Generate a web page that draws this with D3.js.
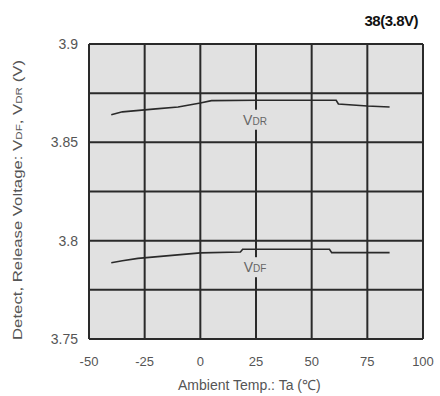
<!DOCTYPE html>
<html>
<head>
<meta charset="utf-8">
<script src="https://cdn.jsdelivr.net/npm/d3@7"></script>
<style>
  body { margin: 0; background: #fff; }
  svg { display: block; font-family: "Liberation Sans", Arial, sans-serif; }
</style>
</head>
<body>
<svg id="chart" width="440" height="396"></svg>
<script>
// temperature (degC) and voltage readings
var vdrTemp = [-40, -35, -20, -10, 0, 5, 25, 50, 61, 62, 75, 85];
var vdrVolt = [3.864, 3.8655, 3.867, 3.868, 3.870, 3.8712, 3.8714, 3.8714, 3.8714, 3.8695, 3.8685, 3.868];
var vdfTemp = [-40, -35, -28, 0, 18, 19, 58, 59, 85];
var vdfVolt = [3.7888, 3.7898, 3.791, 3.7938, 3.7942, 3.7956, 3.7956, 3.7939, 3.7939];
var xTicks = [-50, -25, 0, 25, 50, 75, 100];
var yTicks = [3.75, 3.8, 3.85, 3.9];
var yGrid = [3.75, 3.775, 3.8, 3.825, 3.85, 3.875, 3.9];

function drawChart() {
  var svg = d3.select("#chart");
  var margin = { top: 44, right: 17, bottom: 57, left: 89 };
  var width = 440 - margin.left - margin.right;
  var height = 396 - margin.top - margin.bottom;

  var x = d3.scaleLinear().domain([-50, 100]).range([0, width]);
  var y = d3.scaleLinear().domain([3.75, 3.9]).range([height, 0]);

  var g = svg.append("g")
      .attr("transform", `translate(${margin.left},${margin.top})`);

  g.append("rect")
      .attr("width", width)
      .attr("height", height)
      .attr("fill", "#e1e1e1");

  // grid
  g.selectAll(".vgrid")
    .data(xTicks)
    .enter()
    .append("line")
    .attr("x1", d => x(d)).attr("x2", d => x(d))
    .attr("y1", 0).attr("y2", height)
    .attr("stroke", "#2a2a2a")
    .attr("stroke-width", 2);

  g.selectAll(".hgrid")
    .data(yGrid)
    .enter()
    .append("line")
    .attr("x1", 0).attr("x2", width)
    .attr("y1", d => y(d)).attr("y2", d => y(d))
    .attr("stroke", "#2a2a2a")
    .attr("stroke-width", 2);

  // curves
  var line = d3.line()
    .x(d => x(d[0]))
    .y(d => y(d[1]));

  var series = [d3.zip(vdrTemp, vdrVolt), d3.zip(vdfTemp, vdfVolt)];
  g.selectAll(".curve")
    .data(series)
    .enter()
    .append("path")
    .attr("d", line)
    .attr("fill", "none")
    .attr("stroke", "#2a2a2a")
    .attr("stroke-width", 1.6);

  // curve labels, with a background patch over the grid line
  var labels = [
    { sub: "DR", t: 25, v: 3.8615 },
    { sub: "DF", t: 25, v: 3.7865 }
  ];
  labels.forEach(function(l) {
    var cx = x(l.t) - 1;
    var cy = y(l.v);
    g.append("rect")
      .attr("x", cx - 16).attr("y", cy - 10)
      .attr("width", 32).attr("height", 20)
      .attr("fill", "#e1e1e1");
    var t = g.append("text")
      .attr("x", cx)
      .attr("y", cy + 5)
      .attr("text-anchor", "middle")
      .attr("fill", "#666")
      .style("font-size", "14px");
    t.append("tspan").text("V");
    t.append("tspan").style("font-size", "10px").text(l.sub);
  });

  // y tick labels
  g.selectAll(".ytick")
    .data(yTicks)
    .enter()
    .append("text")
    .attr("x", -11)
    .attr("y", d => y(d) + 5)
    .attr("text-anchor", "end")
    .attr("fill", "#555")
    .style("font-size", "14px")
    .text(d => d);

  // x tick labels
  g.selectAll(".xtick")
    .data(xTicks)
    .enter()
    .append("text")
    .attr("x", d => x(d))
    .attr("y", height + 27)
    .attr("text-anchor", "middle")
    .attr("fill", "#555")
    .style("font-size", "13px")
    .text(d => d);

  // axis titles
  svg.append("text")
    .attr("x", margin.left + x(22))
    .attr("y", 390)
    .attr("text-anchor", "middle")
    .attr("fill", "#555")
    .style("font-size", "14px")
    .text("Ambient Temp.: Ta (\u2103)");

  var yt = svg.append("text")
    .attr("transform", "translate(22,200) rotate(-90)")
    .attr("text-anchor", "middle")
    .attr("fill", "#555")
    .style("font-size", "13px")
    .attr("textLength", 280)
    .attr("lengthAdjust", "spacingAndGlyphs");
  yt.append("tspan").text("Detect, Release Voltage: V");
  yt.append("tspan").style("font-size", "9px").text("DF");
  yt.append("tspan").text(", V");
  yt.append("tspan").style("font-size", "9px").text("DR");
  yt.append("tspan").text(" (V)");

  svg.append("text")
    .attr("x", 418)
    .attr("y", 26)
    .attr("text-anchor", "end")
    .attr("fill", "#111")
    .style("font-size", "15px")
    .style("font-weight", "bold")
    .attr("letter-spacing", "-0.5")
    .text("38(3.8V)");
}

drawChart();
</script>
</body>
</html>
